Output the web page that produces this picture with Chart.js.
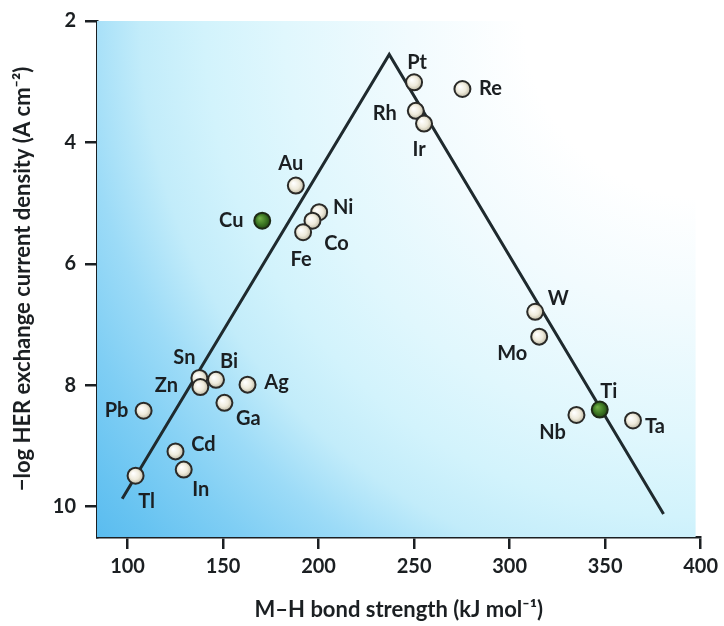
<!DOCTYPE html>
<html>
<head>
<meta charset="utf-8">
<script src="https://cdn.jsdelivr.net/npm/chart.js@4.4.1/dist/chart.umd.min.js"></script>
<style>
  html, body { margin: 0; padding: 0; background: #fff; }
</style>
</head>
<body>
<canvas id="volcano" width="724" height="626"></canvas>
<script>
// metals (drawing order matters where circles overlap)
const metals = ['Re', 'Pt', 'Rh', 'Ir', 'Au', 'Ni', 'Co', 'Fe', 'W', 'Mo', 'Nb', 'Ta',
                'Ag', 'Bi', 'Sn', 'Zn', 'Ga', 'Pb', 'Cd', 'In', 'Tl'];
const bondStrength = [275.3, 250.0, 250.9, 255.2, 188.1, 200.3, 196.8, 191.9, 313.4, 315.5, 335.0, 364.6,
                      162.8, 146.3, 137.6, 138.1, 150.7, 108.4, 125.1, 129.4, 104.2];
const logCurrent = [3.12, 3.01, 3.48, 3.69, 4.71, 5.15, 5.29, 5.48, 6.79, 7.20, 8.49, 8.58,
                    7.99, 7.91, 7.88, 8.03, 8.29, 8.42, 9.09, 9.39, 9.49];

// the two green ones
const greenMetals = ['Cu', 'Ti'];
const greenBond = [170.5, 347.2];
const greenLog = [5.29, 8.40];

// volcano guide line
const volcanoX = [97.2, 237.0, 380.6];
const volcanoY = [9.87, 2.55, 10.12];

const xTicks = [100, 150, 200, 250, 300, 350, 400];
const yTicks = [2, 4, 6, 8, 10];

// label offsets from the circle centre, px
const labelOffset = {
  Pt: [3, -20], Re: [28, 0], Rh: [-31, 3], Ir: [-5, 26], Au: [-5, -22], Cu: [-31, 0],
  Ni: [24, -5], Co: [24, 23], Fe: [-2, 27], W: [23, -13], Mo: [-27, 17], Ti: [9, -18],
  Nb: [-24, 18], Ta: [22, 6], Sn: [-15, -20], Bi: [13, -18], Zn: [-34, -2], Ag: [29, -2],
  Ga: [24, 16], Pb: [-27, 0], Cd: [28, -7], In: [17, 20], Tl: [11, 26]
};

const FONT = 'Lato, "Open Sans", sans-serif';
const INK = '#1b1f22';

function toPoints(xs, ys) {
  return xs.map((x, i) => ({ x: x, y: ys[i] }));
}

function ballFill(light, mid, dark) {
  return function(c) {
    const chart = c.chart;
    if (!chart.chartArea || !c.raw) return mid;
    const x = chart.scales.x.getPixelForValue(c.raw.x);
    const y = chart.scales.y.getPixelForValue(c.raw.y);
    const g = chart.ctx.createRadialGradient(x - 2.5, y - 2.5, 0.5, x, y, 8.5);
    g.addColorStop(0, light);
    g.addColorStop(0.55, mid);
    g.addColorStop(1, dark);
    return g;
  };
}

// pale-to-blue glow spreading from the top right corner
const backdrop = {
  id: 'backdrop',
  beforeDatasetsDraw(chart) {
    const { ctx, chartArea: a } = chart;
    const g = ctx.createRadialGradient(a.right, a.top, 0, a.right, a.top, 800);
    g.addColorStop(0, '#ffffff');
    g.addColorStop(0.22, '#ffffff');
    g.addColorStop(0.36, '#f2fbfe');
    g.addColorStop(0.52, '#e0f7fd');
    g.addColorStop(0.62, '#d2f3fc');
    g.addColorStop(0.7, '#c2ecfa');
    g.addColorStop(0.78, '#9cdbf7');
    g.addColorStop(0.86, '#7fcef4');
    g.addColorStop(0.94, '#67c3f1');
    g.addColorStop(1, '#58bbef');
    ctx.save();
    ctx.fillStyle = g;
    ctx.fillRect(a.left, a.top, a.width - 5, a.height);
    ctx.restore();
  }
};

const metalLabels = {
  id: 'metalLabels',
  afterDatasetsDraw(chart) {
    const ctx = chart.ctx;
    ctx.save();
    ctx.font = 'bold 20px ' + FONT;
    ctx.fillStyle = INK;
    ctx.textAlign = 'center';
    ctx.textBaseline = 'middle';
    chart.data.datasets.forEach((ds, di) => {
      if (!ds.names) return;
      chart.getDatasetMeta(di).data.forEach((pt, i) => {
        const off = labelOffset[ds.names[i]];
        ctx.fillText(ds.names[i], pt.x + off[0], pt.y + off[1]);
      });
    });
    ctx.restore();
  }
};

new Chart(document.getElementById('volcano').getContext('2d'), {
  type: 'scatter',
  data: {
    datasets: [
      {
        names: greenMetals,
        data: toPoints(greenBond, greenLog),
        pointRadius: 8,
        pointBorderWidth: 2,
        pointBorderColor: '#1d2a16',
        pointBackgroundColor: ballFill('#6fae45', '#3f7a25', '#1f4611'),
        order: 0
      },
      {
        names: metals,
        data: toPoints(bondStrength, logCurrent),
        pointRadius: 8,
        pointBorderWidth: 2,
        pointBorderColor: '#2a2a28',
        pointBackgroundColor: ballFill('#ffffff', '#efebdc', '#b9b39d'),
        order: 1
      },
      {
        type: 'line',
        data: toPoints(volcanoX, volcanoY),
        showLine: true,
        pointRadius: 0,
        borderColor: '#1f2a2e',
        borderWidth: 3,
        fill: false,
        order: 2
      }
    ]
  },
  options: {
    responsive: false,
    animation: false,
    layout: { padding: { top: 20, right: 22, left: 0, bottom: 0 } },
    plugins: {
      legend: { display: false },
      tooltip: { enabled: false }
    },
    scales: {
      x: {
        type: 'linear',
        min: 84,
        max: 400,
        afterBuildTicks: s => { s.ticks = xTicks.map(v => ({ value: v })); },
        afterFit: s => { s.height = 89; },
        border: { display: true, color: INK, width: 2.5 },
        grid: { drawOnChartArea: false, drawTicks: true, tickLength: 12, color: INK, lineWidth: 2.5 },
        ticks: { color: INK, padding: 6, font: { family: FONT, size: 20, weight: 'bold' } },
        title: {
          display: true,
          text: 'M–H bond strength (kJ mol⁻¹)',
          color: INK,
          padding: { top: 0, bottom: 3 },
          font: { family: FONT, size: 22, weight: 'bold' }
        }
      },
      y: {
        type: 'linear',
        reverse: true,
        min: 2,
        max: 10.5,
        afterBuildTicks: s => { s.ticks = yTicks.map(v => ({ value: v })); },
        afterFit: s => { s.width = 97; },
        border: { display: true, color: INK, width: 2.5 },
        grid: { drawOnChartArea: false, drawTicks: true, tickLength: 12, color: INK, lineWidth: 2.5 },
        ticks: { color: INK, padding: 9, font: { family: FONT, size: 20, weight: 'bold' } },
        title: {
          display: true,
          text: '−log HER exchange current density (A cm⁻²)',
          color: INK,
          padding: { top: 10, bottom: 0 },
          font: { family: FONT, size: 22, weight: 'bold' }
        }
      }
    }
  },
  plugins: [backdrop, metalLabels]
});
</script>
</body>
</html>
